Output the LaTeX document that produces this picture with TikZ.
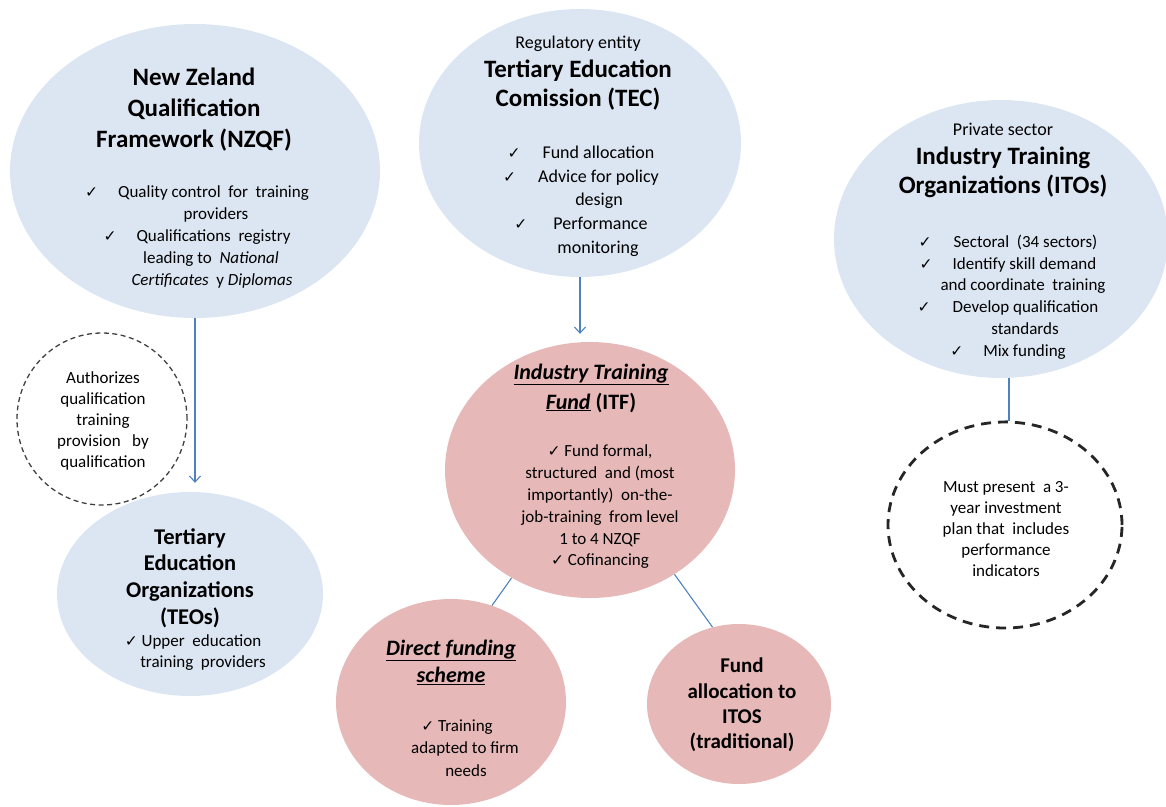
\documentclass[tikz,border=0pt]{standalone}
\usepackage{fontspec}
\setmainfont{Carlito}
\newfontfamily\symfont{DejaVu Sans}
\usetikzlibrary{shapes.geometric,arrows.meta}
\definecolor{bluefill}{HTML}{DCE6F2}
\definecolor{pinkfill}{HTML}{E6B9B8}
\definecolor{linec}{HTML}{4F81BD}
\newcommand\ck{{\symfont\fontsize{15.5}{15}\selectfont ✓}}
\tikzset{
  blueell/.style={ellipse, fill=bluefill, draw=none, inner sep=0pt},
  pinkell/.style={ellipse, fill=pinkfill, draw=none, inner sep=0pt},
  dashthin/.style={ellipse, draw=black!75, line width=1.3pt, dash pattern=on 5pt off 3.5pt, inner sep=0pt},
  dashthick/.style={ellipse, draw=black!85, line width=2.8pt, dash pattern=on 10pt off 7pt, inner sep=0pt},
  bigtitle/.style={align=center, inner sep=0pt, font=\fontsize{25}{30}\selectfont\bfseries},
  bodytxt/.style={align=center, inner sep=0pt, font=\fontsize{17}{22}\selectfont},
  arr/.style={draw=linec, line width=1.1pt, -{Straight Barb[length=6pt,width=11pt]}},
  conn/.style={draw=linec, line width=1.1pt}
}
\begin{document}
\begin{tikzpicture}[x=1pt,y=-1pt]
\useasboundingbox (0,0) rectangle (1166,806);

% ellipses
\node[blueell, minimum width=370pt, minimum height=294pt] (nzqf) at (195,171) {};
\node[blueell, minimum width=322pt, minimum height=268pt] (tec) at (580,143) {};
\node[blueell, minimum width=334pt, minimum height=278pt] (ito) at (1001,239) {};
\node[blueell, minimum width=266pt, minimum height=204pt] (teo) at (190,594) {};
\node[dashthin, minimum width=170pt, minimum height=172pt] (auth) at (102,419) {};
\node[pinkell, minimum width=290pt, minimum height=256pt] (itf) at (590,470) {};
\node[pinkell, minimum width=230pt, minimum height=206pt] (direct) at (451,702) {};
\node[pinkell, minimum width=184pt, minimum height=160pt] (fa) at (739,704) {};
\node[dashthick, minimum width=234pt, minimum height=206pt] (plan) at (1005,525) {};

% NZQF text
\node[bigtitle, font=\fontsize{25}{31}\selectfont\bfseries] (nzqft) at (194,110) {New Zeland\\Qualification\\Framework (NZQF)};
\node[bodytxt, font=\fontsize{17}{22.2}\selectfont] (nzqfb) at (197,237) {\ck\hspace{20pt}Quality control\ \ for\ \ training\\
\hspace{38pt}providers\\
\ck\hspace{20pt}Qualifications\ \ registry\\
\hspace{28pt}leading to\ \ \textit{National}\\
\hspace{30pt}\textit{Certificates}\ \ y \textit{Diplomas}};

% TEC text
\node[bigtitle, font=\fontsize{25}{29}\selectfont\bfseries] (tect) at (578,73) {{\mdseries\fontsize{18}{29}\selectfont Regulatory entity}\\Tertiary Education\\Comission (TEC)};
\node[bodytxt, font=\fontsize{18}{23.7}\selectfont] (tecb) at (581,201) {\ck\hspace{22pt}Fund allocation\\
\ck\hspace{22pt}Advice for policy\\
\hspace{36pt}design\\
\ck\hspace{26pt}Performance\\
\hspace{34pt}monitoring};

% ITO text
\node[bigtitle, font=\fontsize{25}{29}\selectfont\bfseries] (itot) at (1003,160) {{\mdseries\fontsize{18}{29}\selectfont Private sector}\\Industry Training\\Organizations (ITOs)};
\node[bodytxt, font=\fontsize{17}{21.8}\selectfont] (itob) at (1008,297) {\ck\hspace{22pt}Sectoral\ \ (34 sectors)\\
\ck\hspace{20pt}Identify skill demand\\
\hspace{30pt}and coordinate\ \ training\\
\ck\hspace{22pt}Develop qualification\\
\hspace{34pt}standards\\
\ck\hspace{20pt}Mix funding};

% Authorizes
\node[bodytxt, font=\fontsize{17}{21.2}\selectfont] (autht) at (103,421) {Authorizes\\qualification\\training\\provision\ \ \ by\\qualification};

% TEO text
\node[bigtitle, font=\fontsize{22.5}{26.7}\selectfont\bfseries] (teot) at (190,578) {Tertiary\\Education\\Organizations\\(TEOs)};
\node[bodytxt, font=\fontsize{17}{21}\selectfont] (teob) at (193,653) {\ck\ Upper\ \ education\\\hspace{20pt}training\ \ providers};

% ITF text
\node[bigtitle, font=\fontsize{22}{30}\selectfont\bfseries] (itft) at (591,388) {\underline{\textit{Industry Training}}\\\underline{\textit{Fund}} (ITF)};
\node[bodytxt, font=\fontsize{17}{21.8}\selectfont] (itfb) at (600,507) {\ck\ Fund formal,\\
structured\ \ and (most\\
importantly)\ \ on-the-\\
job-training\ \ from level\\
1 to 4 NZQF\\
\ck\ Cofinancing};

% Direct funding
\node[bigtitle, font=\fontsize{22}{27}\selectfont\bfseries] (directt) at (451,662) {\underline{\textit{Direct funding}}\\\underline{\textit{scheme}}};
\node[bodytxt, font=\fontsize{17}{22.5}\selectfont] (directb) at (457,748) {\ck\ Training\\\hspace{16pt}adapted\ to firm\\\hspace{18pt}needs};

% Fund allocation
\node[bigtitle, font=\fontsize{21}{25.3}\selectfont\bfseries] (fat) at (742,705) {Fund\\allocation to\\ITOS\\(traditional)};

% Plan
\node[bodytxt, font=\fontsize{17}{21}\selectfont] (plant) at (1006,529) {Must present\ \ a 3-\\year\ investment\\plan that\ \ includes\\performance\\indicators};

% connectors
\draw[arr, shorten >=9pt] (nzqf.south) -- (nzqf.south |- teo.north);
\draw[arr, shorten >=8pt] (tec.south) -- (tec.south |- itf.north);
\draw[conn] (itf.234) -- (direct.67);
\draw[conn] (itf.309) -- (fa.109);
\coordinate (itoout) at (1009,378);
\draw[conn] (itoout) |- (plan.north);
\end{tikzpicture}
\end{document}
